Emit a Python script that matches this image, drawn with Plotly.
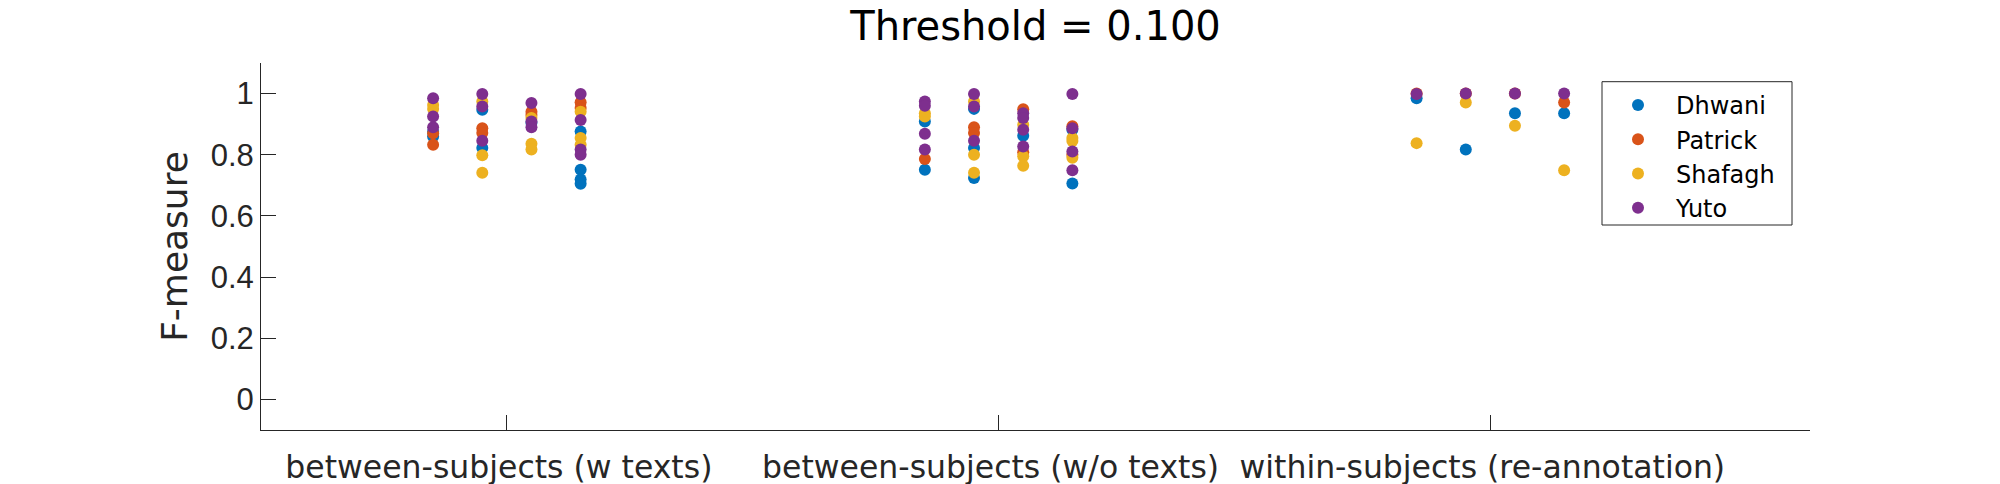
import plotly.graph_objects as go

categories = ["between-subjects (w texts)", "between-subjects (w/o texts)", "within-subjects (re-annotation)"]
category_pos = [1, 2, 3]
column_offsets = [-0.15, -0.05, 0.05, 0.15]
annotators = ["Dhwani", "Patrick", "Shafagh", "Yuto"]
colors = ["#0072BD", "#D95319", "#EDB120", "#7E2F8E"]
y_ticks = [0, 0.2, 0.4, 0.6, 0.8, 1]
y_tick_labels = ["0", "0.2", "0.4", "0.6", "0.8", "1"]

# values per annotator: [category][column] -> list of F-measures
dhwani = [
    [[0.875, 0.86], [0.947, 0.822], [0.905], [0.876, 0.751, 0.719, 0.705]],
    [[0.909, 0.751], [0.950, 0.822, 0.724], [0.862], [0.882, 0.706]],
    [[0.985], [0.817], [0.936], [0.936]],
]
patrick = [
    [[0.833, 0.87], [0.887, 0.871], [0.941, 0.93], [0.972, 0.953]],
    [[0.786], [0.890, 0.871], [0.949, 0.808], [0.893, 0.80]],
    [[1.0], [1.0], [1.0], [0.971]],
]
shafagh = [
    [[0.963, 0.95], [0.974, 0.798, 0.741], [0.92, 0.836, 0.817], [0.941, 0.855, 0.833]],
    [[0.936, 0.925], [0.974, 0.800, 0.741], [0.898, 0.795, 0.764], [0.855, 0.845, 0.79]],
    [[0.838], [0.971], [0.895], [0.749]],
]
yuto = [
    [[0.985, 0.925, 0.890], [0.999, 0.958, 0.846], [0.969, 0.909, 0.890], [0.999, 0.914, 0.817, 0.800]],
    [[0.974, 0.960, 0.869, 0.817], [0.999, 0.958, 0.846], [0.936, 0.920, 0.882, 0.827], [0.999, 0.887, 0.811, 0.749]],
    [[0.999], [1.0], [1.0], [1.0]],
]
series = [dhwani, patrick, shafagh, yuto]

fig = go.Figure()
for name, color, data in zip(annotators, colors, series):
    xs, ys = [], []
    for ci, cat in enumerate(data):
        for k, col in enumerate(cat):
            for v in col:
                xs.append(category_pos[ci] + column_offsets[k])
                ys.append(v)
    fig.add_trace(go.Scatter(x=xs, y=ys, mode="markers", name=name,
                             marker=dict(color=color, size=12, line=dict(width=0))))

# plot-area geometry in pixels
L, R, T, B = 261, 1810, 63, 430
W, H = 2000, 484
def px(xp):
    return (xp - L) / (R - L)
def py(yp):
    return (B - yp) / (B - T)

axis_col = "#262626"
main_font = "DejaVu Sans"
fig.update_layout(
    width=W, height=H,
    paper_bgcolor="white", plot_bgcolor="white",
    margin=dict(l=L, r=W - R, t=T, b=H - B),
    title=dict(text="Threshold = 0.100", x=0.5, xref="paper", xanchor="center",
               y=1 - 26 / H, yref="container", yanchor="middle",
               font=dict(family=main_font, size=40, color="black")),
    xaxis=dict(range=[0.5, 3.65], tickvals=category_pos, ticktext=categories,
               ticks="inside", ticklen=15, tickcolor=axis_col, tickwidth=1,
               showline=True, linecolor=axis_col, linewidth=1, showgrid=False, zeroline=False,
               automargin=False,
               tickfont=dict(family=main_font, size=31.5, color=axis_col),
               ticklabelstandoff=9, ticklabelshift=-8),
    yaxis=dict(range=[-0.1, 1.1], tickvals=y_ticks, ticktext=y_tick_labels,
               ticks="inside", ticklen=15, tickcolor=axis_col, tickwidth=1,
               showline=True, linecolor=axis_col, linewidth=1, showgrid=False, zeroline=False,
               automargin=False,
               tickfont=dict(family="Liberation Sans", size=31, color=axis_col),
               ticklabelstandoff=0,
               title=dict(text="F-measure", standoff=12,
                          font=dict(family=main_font, size=36, color=axis_col))),
    legend=dict(x=px(1600), y=py(83), xanchor="left", yanchor="top",
                borderwidth=0, bgcolor="rgba(0,0,0,0)",
                font=dict(family=main_font, size=24, color="black"),
                itemwidth=66),
    showlegend=True,
    shapes=[dict(type="rect", xref="paper", yref="paper",
                 x0=px(1602), x1=px(1792), y0=py(225), y1=py(81.7),
                 line=dict(color=axis_col, width=1), fillcolor="rgba(0,0,0,0)", layer="below")],
)
fig.write_html("out.html", config={"displayModeBar": False},
               post_script="document.body.style.margin='0';document.body.style.padding='0';")
